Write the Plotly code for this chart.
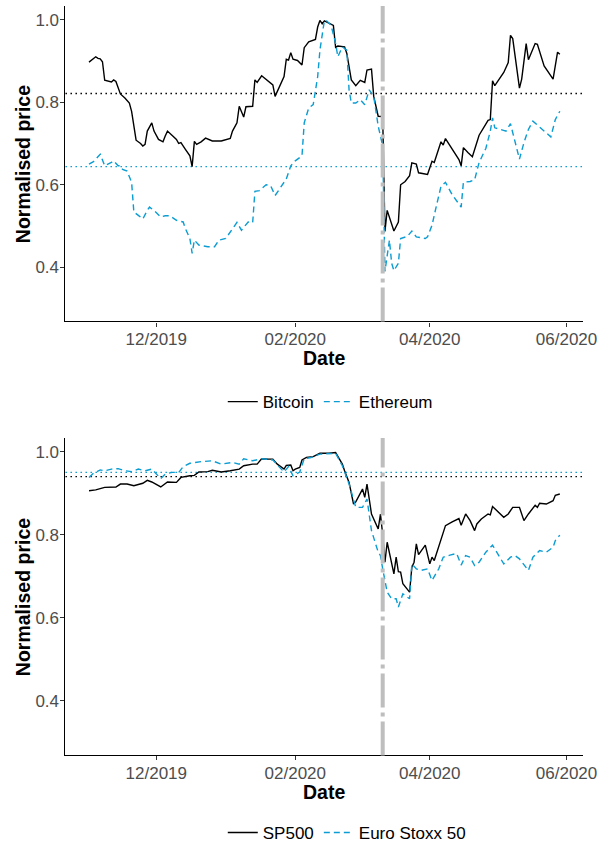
import plotly.graph_objects as go

# ---------------- data ----------------
btc_dates = ["2019-11-01","2019-11-04","2019-11-05","2019-11-06","2019-11-07","2019-11-08","2019-11-11","2019-11-12","2019-11-13","2019-11-14","2019-11-15","2019-11-17","2019-11-19","2019-11-20","2019-11-21","2019-11-22","2019-11-24","2019-11-25","2019-11-26","2019-11-27","2019-11-29","2019-11-30","2019-12-02","2019-12-04","2019-12-05","2019-12-06","2019-12-08","2019-12-10","2019-12-11","2019-12-12","2019-12-14","2019-12-16","2019-12-17","2019-12-18","2019-12-19","2019-12-21","2019-12-23","2019-12-26","2019-12-30","2020-01-03","2020-01-04","2020-01-06","2020-01-07","2020-01-09","2020-01-10","2020-01-13","2020-01-14","2020-01-15","2020-01-17","2020-01-19","2020-01-22","2020-01-23","2020-01-25","2020-01-27","2020-01-28","2020-01-29","2020-01-30","2020-01-31","2020-02-02","2020-02-04","2020-02-05","2020-02-07","2020-02-10","2020-02-11","2020-02-12","2020-02-13","2020-02-14","2020-02-16","2020-02-18","2020-02-19","2020-02-20","2020-02-23","2020-02-24","2020-02-26","2020-02-28","2020-03-01","2020-03-03","2020-03-04","2020-03-06","2020-03-07","2020-03-09","2020-03-11","2020-03-12","2020-03-13","2020-03-16","2020-03-18","2020-03-19","2020-03-21","2020-03-23","2020-03-24","2020-03-26","2020-03-27","2020-03-31","2020-04-02","2020-04-03","2020-04-06","2020-04-07","2020-04-08","2020-04-11","2020-04-14","2020-04-15","2020-04-16","2020-04-18","2020-04-20","2020-04-23","2020-04-25","2020-04-27","2020-04-28","2020-04-29","2020-04-30","2020-05-04","2020-05-06","2020-05-07","2020-05-08","2020-05-11","2020-05-12","2020-05-14","2020-05-15","2020-05-18","2020-05-19","2020-05-22","2020-05-26","2020-05-28","2020-05-29"]
btc_values = [0.897,0.910,0.906,0.905,0.898,0.853,0.849,0.854,0.850,0.834,0.820,0.810,0.798,0.778,0.742,0.708,0.700,0.694,0.698,0.730,0.750,0.730,0.710,0.704,0.718,0.730,0.720,0.710,0.700,0.702,0.686,0.670,0.644,0.705,0.698,0.704,0.713,0.706,0.706,0.712,0.730,0.750,0.790,0.764,0.789,0.790,0.854,0.848,0.864,0.856,0.842,0.814,0.838,0.862,0.904,0.902,0.920,0.904,0.901,0.890,0.932,0.946,0.952,0.982,0.998,0.990,0.997,0.992,0.986,0.933,0.936,0.934,0.918,0.854,0.840,0.853,0.848,0.878,0.880,0.814,0.766,0.765,0.487,0.538,0.488,0.510,0.600,0.608,0.622,0.653,0.650,0.629,0.625,0.657,0.654,0.704,0.696,0.712,0.688,0.661,0.646,0.690,0.678,0.668,0.720,0.738,0.756,0.758,0.852,0.840,0.872,0.896,0.962,0.954,0.834,0.856,0.942,0.903,0.942,0.940,0.888,0.856,0.921,0.916]

eth_dates = ["2019-11-01","2019-11-03","2019-11-06","2019-11-08","2019-11-11","2019-11-12","2019-11-14","2019-11-15","2019-11-16","2019-11-18","2019-11-20","2019-11-21","2019-11-23","2019-11-25","2019-11-27","2019-11-28","2019-11-30","2019-12-03","2019-12-05","2019-12-07","2019-12-10","2019-12-13","2019-12-14","2019-12-16","2019-12-17","2019-12-18","2019-12-20","2019-12-24","2019-12-27","2019-12-29","2020-01-01","2020-01-04","2020-01-06","2020-01-08","2020-01-11","2020-01-13","2020-01-14","2020-01-16","2020-01-19","2020-01-21","2020-01-23","2020-01-25","2020-01-28","2020-01-30","2020-02-01","2020-02-04","2020-02-05","2020-02-07","2020-02-09","2020-02-11","2020-02-12","2020-02-14","2020-02-15","2020-02-17","2020-02-19","2020-02-20","2020-02-22","2020-02-24","2020-02-25","2020-02-26","2020-02-28","2020-03-01","2020-03-03","2020-03-05","2020-03-07","2020-03-09","2020-03-11","2020-03-12","2020-03-14","2020-03-15","2020-03-16","2020-03-18","2020-03-19","2020-03-22","2020-03-24","2020-03-26","2020-03-30","2020-03-31","2020-04-02","2020-04-04","2020-04-06","2020-04-08","2020-04-11","2020-04-15","2020-04-16","2020-04-19","2020-04-21","2020-04-23","2020-04-26","2020-04-28","2020-04-29","2020-04-30","2020-05-03","2020-05-05","2020-05-07","2020-05-10","2020-05-11","2020-05-13","2020-05-15","2020-05-17","2020-05-22","2020-05-25","2020-05-27","2020-05-29"]
eth_values = [0.650,0.656,0.674,0.646,0.654,0.658,0.646,0.646,0.637,0.633,0.606,0.534,0.526,0.517,0.538,0.546,0.538,0.522,0.525,0.525,0.514,0.510,0.494,0.470,0.434,0.466,0.454,0.450,0.450,0.466,0.470,0.494,0.509,0.490,0.510,0.508,0.584,0.586,0.600,0.598,0.574,0.590,0.614,0.646,0.658,0.670,0.750,0.786,0.794,0.862,0.926,0.998,0.997,0.986,0.942,0.910,0.934,0.926,0.830,0.798,0.798,0.806,0.794,0.830,0.814,0.742,0.694,0.390,0.466,0.410,0.392,0.410,0.470,0.475,0.488,0.474,0.470,0.474,0.502,0.550,0.596,0.606,0.576,0.546,0.606,0.608,0.612,0.654,0.688,0.730,0.762,0.738,0.734,0.730,0.748,0.686,0.662,0.702,0.734,0.754,0.730,0.716,0.758,0.778]

sp_dates = ["2019-11-01","2019-11-04","2019-11-08","2019-11-13","2019-11-15","2019-11-18","2019-11-21","2019-11-25","2019-11-27","2019-11-29","2019-12-03","2019-12-06","2019-12-10","2019-12-12","2019-12-16","2019-12-18","2019-12-20","2019-12-24","2019-12-26","2019-12-30","2020-01-03","2020-01-07","2020-01-09","2020-01-10","2020-01-13","2020-01-15","2020-01-17","2020-01-20","2020-01-22","2020-01-24","2020-01-27","2020-01-28","2020-01-30","2020-01-31","2020-02-01","2020-02-03","2020-02-04","2020-02-06","2020-02-09","2020-02-12","2020-02-16","2020-02-19","2020-02-22","2020-02-23","2020-02-25","2020-02-27","2020-02-28","2020-03-02","2020-03-03","2020-03-04","2020-03-05","2020-03-06","2020-03-09","2020-03-10","2020-03-11","2020-03-12","2020-03-13","2020-03-16","2020-03-17","2020-03-18","2020-03-19","2020-03-20","2020-03-23","2020-03-24","2020-03-25","2020-03-26","2020-03-27","2020-03-30","2020-04-01","2020-04-02","2020-04-03","2020-04-06","2020-04-08","2020-04-11","2020-04-14","2020-04-15","2020-04-17","2020-04-19","2020-04-21","2020-04-22","2020-04-24","2020-04-27","2020-04-28","2020-04-29","2020-05-01","2020-05-04","2020-05-06","2020-05-08","2020-05-11","2020-05-13","2020-05-15","2020-05-18","2020-05-19","2020-05-20","2020-05-23","2020-05-26","2020-05-27","2020-05-29"]
sp_values = [0.906,0.908,0.914,0.915,0.922,0.922,0.918,0.924,0.931,0.927,0.915,0.927,0.926,0.938,0.942,0.943,0.951,0.952,0.955,0.951,0.954,0.958,0.966,0.967,0.970,0.970,0.983,0.982,0.982,0.970,0.958,0.967,0.968,0.954,0.958,0.962,0.980,0.986,0.988,0.996,0.996,0.998,0.970,0.954,0.926,0.874,0.879,0.910,0.890,0.922,0.882,0.850,0.814,0.850,0.800,0.734,0.782,0.706,0.746,0.711,0.710,0.682,0.662,0.722,0.734,0.778,0.752,0.775,0.730,0.746,0.738,0.786,0.822,0.831,0.839,0.823,0.850,0.834,0.810,0.826,0.838,0.850,0.848,0.868,0.858,0.842,0.850,0.866,0.866,0.834,0.850,0.871,0.866,0.876,0.874,0.882,0.895,0.898]

sx_dates = ["2019-11-01","2019-11-03","2019-11-06","2019-11-08","2019-11-11","2019-11-14","2019-11-17","2019-11-20","2019-11-23","2019-11-26","2019-11-29","2019-12-03","2019-12-05","2019-12-08","2019-12-11","2019-12-13","2019-12-16","2019-12-21","2019-12-26","2019-12-30","2020-01-04","2020-01-07","2020-01-09","2020-01-13","2020-01-17","2020-01-22","2020-01-27","2020-01-29","2020-01-31","2020-02-03","2020-02-05","2020-02-08","2020-02-12","2020-02-19","2020-02-22","2020-02-25","2020-02-28","2020-03-02","2020-03-04","2020-03-06","2020-03-09","2020-03-10","2020-03-11","2020-03-13","2020-03-15","2020-03-17","2020-03-18","2020-03-20","2020-03-23","2020-03-24","2020-03-26","2020-03-28","2020-03-31","2020-04-02","2020-04-05","2020-04-07","2020-04-10","2020-04-13","2020-04-15","2020-04-17","2020-04-19","2020-04-21","2020-04-23","2020-04-26","2020-04-29","2020-05-02","2020-05-04","2020-05-07","2020-05-09","2020-05-11","2020-05-15","2020-05-17","2020-05-20","2020-05-23","2020-05-26","2020-05-27","2020-05-29"]
sx_values = [0.938,0.948,0.956,0.954,0.958,0.959,0.954,0.952,0.958,0.954,0.958,0.935,0.946,0.950,0.950,0.964,0.972,0.976,0.978,0.970,0.974,0.970,0.983,0.978,0.983,0.980,0.951,0.964,0.942,0.951,0.983,0.986,0.994,0.996,0.966,0.922,0.866,0.866,0.886,0.810,0.758,0.750,0.718,0.662,0.646,0.646,0.626,0.658,0.646,0.730,0.718,0.714,0.718,0.690,0.718,0.746,0.751,0.755,0.727,0.750,0.746,0.726,0.734,0.758,0.775,0.746,0.730,0.746,0.750,0.742,0.714,0.746,0.762,0.758,0.770,0.786,0.799]

# reference levels (dotted) and event date
top_levels = [0.821, 0.644]      # Bitcoin, Ethereum
bottom_levels = [0.940, 0.950]   # SP500, Euro Stoxx 50
event_date = "2020-03-11"

tick_dates = ["2019-12-01", "2020-02-01", "2020-04-01", "2020-06-01"]
tick_text = ["12/2019", "02/2020", "04/2020", "06/2020"]
y_ticks = [0.4, 0.6, 0.8, 1.0]
x_title = "Date"
y_title = "Normalised price"

# ---------------- styling ----------------
BLACK = "#000000"
BLUE = "#0A9CD2"
GRAY = "#BEBEBE"
FONT = "Liberation Sans, Arial, Helvetica, sans-serif"
x_range = ["2019-10-21 12:00", "2020-06-08 12:00"]
y_range = [0.269, 1.033]

fig = go.Figure()

fig.add_trace(go.Scatter(x=btc_dates, y=btc_values, mode="lines", name="Bitcoin",
                         line=dict(color=BLACK, width=1.4), xaxis="x", yaxis="y", legend="legend"))
fig.add_trace(go.Scatter(x=eth_dates, y=eth_values, mode="lines", name="Ethereum",
                         line=dict(color=BLUE, width=1.4, dash="6px,4px"), xaxis="x", yaxis="y", legend="legend"))
fig.add_trace(go.Scatter(x=sp_dates, y=sp_values, mode="lines", name="SP500",
                         line=dict(color=BLACK, width=1.4), xaxis="x2", yaxis="y2", legend="legend2"))
fig.add_trace(go.Scatter(x=sx_dates, y=sx_values, mode="lines", name="Euro Stoxx 50",
                         line=dict(color=BLUE, width=1.4, dash="6px,4px"), xaxis="x2", yaxis="y2", legend="legend2"))

shapes = []
for val, col in zip(top_levels, [BLACK, BLUE]):
    shapes.append(dict(type="line", xref="x domain", yref="y", x0=0, x1=1, y0=val, y1=val,
                       line=dict(color=col, width=1.3, dash="1.5px,3.5px"), layer="below"))
for val, col in zip(bottom_levels, [BLACK, BLUE]):
    shapes.append(dict(type="line", xref="x2 domain", yref="y2", x0=0, x1=1, y0=val, y1=val,
                       line=dict(color=col, width=1.3, dash="1.5px,3.5px"), layer="below"))
for xr, yr in [("x", "y domain"), ("x2", "y2 domain")]:
    shapes.append(dict(type="line", xref=xr, yref=yr, x0=event_date, x1=event_date, y0=0, y1=1,
                       line=dict(color=GRAY, width=4, dash="34px,5px,4px,5px"), layer="above"))

axis_common = dict(showgrid=False, zeroline=False, showline=True, linecolor=BLACK, linewidth=1.1,
                   ticks="outside", ticklen=4, tickwidth=1, tickcolor="#333333", ticklabelstandoff=-2,
                   tickfont=dict(family=FONT, size=17, color="#4D4D4D"))

xaxis_common = dict(axis_common, type="date", range=x_range, tickvals=tick_dates, ticktext=tick_text)
yaxis_common = dict(axis_common, range=y_range, tickvals=y_ticks, tickformat=".1f")

W, H = 612, 851
xdom = [67 / W, 597 / W]
ydom_top = [1 - 323 / H, 1 - 6 / H]
ydom_bot = [1 - 759 / H, 1 - 440 / H]

title_font = dict(family=FONT, size=19.5, color=BLACK)
annotations = []
for ydom, xt_y in [(ydom_top, 360), (ydom_bot, 796)]:
    annotations.append(dict(text="<b>%s</b>" % x_title, xref="paper", yref="paper",
                            x=(xdom[0] + xdom[1]) / 2, y=1 - xt_y / H, xanchor="center", yanchor="middle",
                            showarrow=False, font=title_font))
    annotations.append(dict(text="<b>%s</b>" % y_title, xref="paper", yref="paper", textangle=-90,
                            x=23 / W, y=(ydom[0] + ydom[1]) / 2, xanchor="center", yanchor="middle",
                            showarrow=False, font=title_font))

legend_style = dict(orientation="h", xanchor="left", yanchor="middle", itemwidth=30,
                    font=dict(family=FONT, size=17, color=BLACK), bgcolor="rgba(0,0,0,0)")

fig.update_layout(
    width=W, height=H, autosize=False,
    margin=dict(l=0, r=0, t=0, b=0),
    paper_bgcolor="white", plot_bgcolor="white",
    font=dict(family=FONT),
    xaxis=dict(xaxis_common, domain=xdom, anchor="y"),
    yaxis=dict(yaxis_common, domain=ydom_top, anchor="x"),
    xaxis2=dict(xaxis_common, domain=xdom, anchor="y2"),
    yaxis2=dict(yaxis_common, domain=ydom_bot, anchor="x2"),
    shapes=shapes,
    annotations=annotations,
    legend=dict(legend_style, x=228 / W, y=1 - 404 / H),
    legend2=dict(legend_style, x=228 / W, y=1 - 837 / H),
    showlegend=True,
)

fig.write_html("out.html", config={"responsive": False})
